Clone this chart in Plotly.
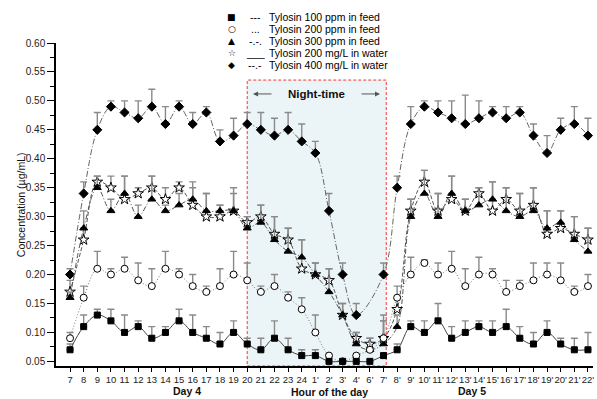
import plotly.graph_objects as go

# Sampling hours: Day 4 (7-24), night (1'-7'), Day 5 (8'-22')
hours = ['7', '8', '9', '10', '11', '12', '13', '14', '15', '16', '17', '18', '19',
         '20', '21', '22', '23', '24', "1'", "2'", "3'", "4'", "6'", "7'",
         "8'", "9'", "10'", "11'", "12'", "13'", "14'", "15'", "16'", "17'",
         "18'", "19'", "20'", "21'", "22'"]

# Mean plasma concentration (ug/mL) and upper end of error bar (mean + SD)
feed100 = [0.07, 0.11, 0.13, 0.12, 0.10, 0.11, 0.09, 0.10, 0.12, 0.10, 0.09, 0.08, 0.10,
           0.08, 0.07, 0.09, 0.07, 0.06, 0.06, 0.05, 0.05, 0.05, 0.05, 0.06,
           0.07, 0.11, 0.10, 0.12, 0.09, 0.10, 0.11, 0.10, 0.11, 0.09,
           0.08, 0.10, 0.08, 0.07, 0.07]
feed100_top = [0.08, 0.13, 0.14, 0.14, 0.13, 0.12, 0.11, 0.11, 0.14, 0.13, 0.11, 0.10, 0.12,
               0.09, 0.09, 0.12, 0.09, 0.07, 0.07, 0.05, 0.05, 0.05, 0.05, 0.06,
               0.08, 0.12, 0.12, 0.15, 0.11, 0.12, 0.12, 0.12, 0.14, 0.11,
               0.10, 0.12, 0.09, 0.09, 0.10]

feed200 = [0.09, 0.16, 0.21, 0.20, 0.21, 0.19, 0.18, 0.21, 0.20, 0.18, 0.17, 0.18, 0.20,
           0.19, 0.17, 0.18, 0.16, 0.14, 0.10, 0.06, 0.05, 0.06, 0.07, 0.09,
           0.16, 0.20, 0.22, 0.20, 0.21, 0.18, 0.20, 0.20, 0.17, 0.18,
           0.19, 0.20, 0.19, 0.17, 0.18]
feed200_top = [0.10, 0.18, 0.24, 0.21, 0.23, 0.22, 0.21, 0.24, 0.21, 0.20, 0.18, 0.21, 0.24,
               0.22, 0.18, 0.20, 0.17, 0.16, 0.13, 0.06, 0.05, 0.06, 0.07, 0.12,
               0.18, 0.23, 0.225, 0.22, 0.24, 0.21, 0.23, 0.21, 0.19, 0.19,
               0.22, 0.22, 0.22, 0.18, 0.20]

feed300 = [0.16, 0.28, 0.35, 0.31, 0.34, 0.30, 0.33, 0.31, 0.32, 0.33, 0.31, 0.31, 0.31,
           0.28, 0.29, 0.26, 0.24, 0.23, 0.20, 0.17, 0.13, 0.08, 0.07, 0.08,
           0.11, 0.30, 0.34, 0.30, 0.34, 0.31, 0.32, 0.33, 0.31, 0.30,
           0.31, 0.28, 0.29, 0.26, 0.24]
feed300_top = [0.17, 0.31, 0.37, 0.33, 0.37, 0.32, 0.37, 0.32, 0.34, 0.35, 0.34, 0.32, 0.34,
               0.30, 0.32, 0.30, 0.28, 0.26, 0.22, 0.21, 0.15, 0.10, 0.09, 0.13,
               0.13, 0.33, 0.38, 0.34, 0.37, 0.33, 0.35, 0.36, 0.35, 0.34,
               0.35, 0.31, 0.31, 0.30, 0.28]

water200 = [0.17, 0.26, 0.36, 0.35, 0.33, 0.34, 0.35, 0.33, 0.35, 0.32, 0.30, 0.30, 0.31,
            0.29, 0.30, 0.27, 0.26, 0.21, 0.20, 0.19, 0.13, 0.09, 0.08, 0.09,
            0.14, 0.31, 0.36, 0.31, 0.33, 0.31, 0.34, 0.31, 0.33, 0.31,
            0.32, 0.27, 0.28, 0.27, 0.26]
water200_top = [0.19, 0.28, 0.37, 0.37, 0.37, 0.35, 0.37, 0.35, 0.36, 0.36, 0.34, 0.32, 0.35,
                0.30, 0.32, 0.30, 0.28, 0.26, 0.22, 0.21, 0.15, 0.10, 0.09, 0.12,
                0.16, 0.33, 0.38, 0.34, 0.37, 0.33, 0.35, 0.36, 0.35, 0.34,
                0.35, 0.31, 0.31, 0.30, 0.28]

water400 = [0.20, 0.34, 0.45, 0.49, 0.48, 0.47, 0.49, 0.46, 0.49, 0.46, 0.48, 0.43, 0.44,
            0.46, 0.45, 0.44, 0.45, 0.43, 0.41, 0.31, 0.20, 0.13, None, 0.20,
            0.35, 0.46, 0.49, 0.48, 0.47, 0.46, 0.47, 0.48, 0.47, 0.48,
            0.44, 0.41, 0.45, 0.46, 0.44]
water400_top = [0.21, 0.36, 0.48, 0.50, 0.50, 0.50, 0.52, 0.49, 0.50, 0.48, 0.49, 0.45, 0.47,
                0.48, 0.48, 0.47, 0.48, 0.46, 0.43, 0.34, 0.22, 0.15, None, 0.22,
                0.37, 0.49, 0.50, 0.50, 0.50, 0.51, 0.50, 0.49, 0.49, 0.49,
                0.46, 0.44, 0.47, 0.49, 0.47]

legend_symbols = ['\u25A0', '\u25CB', '\u25B2', '\u2606', '\u25C6']
legend_styles = ['---', '...', '-.-.', '___', '--.-']
legend_names = ['Tylosin 100 ppm in feed', 'Tylosin 200 ppm in feed', 'Tylosin 300 ppm in feed',
                'Tylosin 200 mg/L in water', 'Tylosin 400 mg/L in water']

FONT = 'Liberation Sans, Arial, sans-serif'


def upper(vals, tops):
    return [None if v is None else max(t - v, 0) for v, t in zip(vals, tops)]


def series(vals, tops, symbol, size, fill, dash, lcolor):
    return go.Scatter(
        x=hours, y=vals, mode='lines+markers', connectgaps=True, showlegend=False,
        line=dict(shape='spline', smoothing=1.0, color=lcolor, width=1, dash=dash),
        marker=dict(symbol=symbol, size=size, color=fill, line=dict(color='black', width=1)),
        error_y=dict(type='data', symmetric=False, array=upper(vals, tops),
                     arrayminus=[0] * len(vals), color='#8a8a8a', thickness=1.4, width=3.5),
        cliponaxis=False,
    )


fig = go.Figure()
fig.add_trace(series(water400, water400_top, 'diamond', 7, 'black', '6px,2px,1px,2px', '#666'))
fig.add_trace(series(water200, water200_top, 'star', 8, 'white', '4px,2px', '#555'))
fig.add_trace(series(feed300, feed300_top, 'triangle-up', 7, 'black', '5px,2px,1px,2px', '#555'))
fig.add_trace(series(feed200, feed200_top, 'circle', 7, 'white', '1px,2px', '#777'))
fig.add_trace(series(feed100, feed100_top, 'square', 6, 'black', 'solid', '#444'))

# Night-time band
fig.add_shape(type='rect', xref='x', yref='y', x0=13, x1=23.2, y0=0.042, y1=0.536,
              fillcolor='#ebf4f6', line=dict(color='red', width=0.8, dash='3px,2px'),
              layer='below')
fig.add_annotation(x=18.1, y=0.512, xref='x', yref='y', text='<b>Night-time</b>',
                   showarrow=False, font=dict(family=FONT, size=11.5, color='#111'))
fig.add_annotation(x=13.43, y=0.512, ax=14.89, ay=0.512, xref='x', yref='y',
                   axref='x', ayref='y', text='', showarrow=True, arrowhead=2,
                   arrowsize=1, arrowwidth=1, arrowcolor='#555')
fig.add_annotation(x=22.74, y=0.512, ax=21.28, ay=0.512, xref='x', yref='y',
                   axref='x', ayref='y', text='', showarrow=True, arrowhead=2,
                   arrowsize=1, arrowwidth=1, arrowcolor='#555')

# Key
row_y = [1.0805, 1.0433, 1.006, 0.969, 0.932]
for sym, sty, name, yy in zip(legend_symbols, legend_styles, legend_names, row_y):
    fig.add_annotation(x=0.3277, y=yy, xref='paper', yref='paper', text=sym, showarrow=False,
                       xanchor='center', yanchor='middle',
                       font=dict(family='DejaVu Sans', size=9, color='black'))
    fig.add_annotation(x=0.3706, y=yy, xref='paper', yref='paper', text=sty, showarrow=False,
                       xanchor='center', yanchor='middle',
                       font=dict(family=FONT, size=10.5, color='black'))
    fig.add_annotation(x=0.3929, y=yy, xref='paper', yref='paper', text=name, showarrow=False,
                       xanchor='left', yanchor='middle',
                       font=dict(family=FONT, size=10.5, color='black'))

# Axis captions
fig.add_annotation(x=0.2155, y=-0.077, xref='paper', yref='paper', text='<b>Day 4</b>',
                   showarrow=False, yanchor='middle', borderpad=0,
                   font=dict(family=FONT, size=10.5, color='#111'))
fig.add_annotation(x=0.8026, y=-0.077, xref='paper', yref='paper', text='<b>Day 5</b>',
                   showarrow=False, yanchor='middle', borderpad=0,
                   font=dict(family=FONT, size=10.5, color='#111'))
fig.add_annotation(x=0.510, y=-0.081, xref='paper', yref='paper', text='<b>Hour of the day</b>',
                   showarrow=False, yanchor='middle', borderpad=0,
                   font=dict(family=FONT, size=10.5, color='#111'))
fig.add_annotation(x=-0.080, y=0.498, xref='paper', yref='paper',
                   text='Concentration (\u00b5g/mL)', textangle=-90, showarrow=False,
                   font=dict(family=FONT, size=10.5, color='#111'))

fig.update_xaxes(type='category', categoryorder='array', categoryarray=hours,
                 range=[-1.03, 38.37], showline=True, linecolor='black', linewidth=1.5,
                 ticks='outside', ticklen=4, tickwidth=1.2, tickcolor='black',
                 showgrid=False, zeroline=False, tickangle=0,
                 tickfont=dict(family=FONT, size=9.5, color='#222'))
fig.update_yaxes(range=[0.042, 0.60], tick0=0.05, dtick=0.05, tickformat='.2f',
                 showline=True, linecolor='black', linewidth=1.5,
                 ticks='outside', ticklen=7, tickwidth=1.2, tickcolor='black',
                 minor=dict(dtick=0.025, tick0=0.025, ticks='outside', ticklen=4,
                            tickwidth=1, tickcolor='black'),
                 showgrid=False, zeroline=False,
                 tickfont=dict(family=FONT, size=10, color='#222'))

fig.update_layout(width=597, height=399, margin=dict(l=56, r=4, t=43, b=33),
                  paper_bgcolor='white', plot_bgcolor='white')

fig.write_html('out.html')
